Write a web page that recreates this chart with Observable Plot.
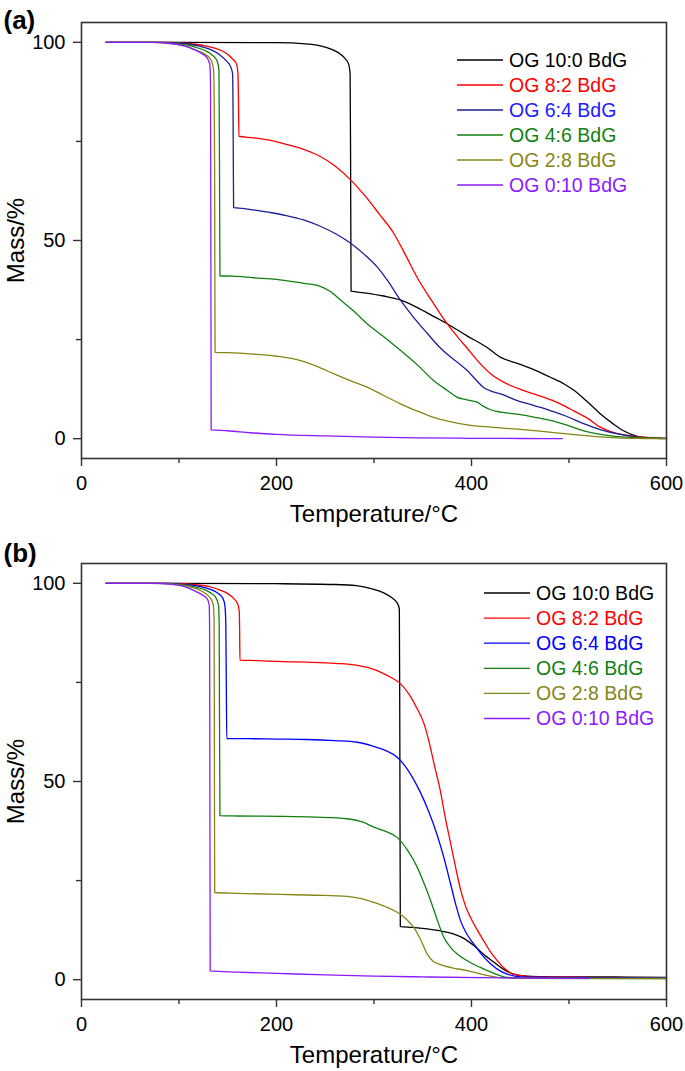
<!DOCTYPE html>
<html>
<head>
<meta charset="utf-8">
<script src="https://cdn.jsdelivr.net/npm/d3@7"></script>
<script src="https://cdn.jsdelivr.net/npm/@observablehq/plot@0.6"></script>
<style>
  html, body { margin: 0; padding: 0; background: #fff; }
  svg { display: block; }
</style>
</head>
<body>
<div id="chart"></div>
<script>
// ---------- Data (Temperature °C, Mass %) ----------
const seriesNames = ["OG 10:0 BdG", "OG 8:2 BdG", "OG 6:4 BdG", "OG 4:6 BdG", "OG 2:8 BdG", "OG 0:10 BdG"];
const xTicks = [0, 200, 400, 600];
const xMinor = [100, 300, 500];
const yTicks = [0, 50, 100];
const yMinor = [25, 75];

// Panel (a)
const a_10_0 = [[25,100],[100,100],[200,99.9],[230,99.6],[250,98.8],[262,97.6],[270,96],[274,94.5],[275.5,92],[276,70],[276.5,37.2],[290,36.8],[310,36],[327,35],[345,33],[360,31],[375,29],[395,26],[416,23],[430,20.5],[447,19],[465,17.3],[481,15.5],[495,13.8],[505,12.2],[518,9.5],[532,6.3],[545,3.8],[556,2],[566,0.9],[577,0.3],[590,0.1],[600,0]];
const a_8_2 = [[25,100],[90,100],[110,99.7],[125,99.2],[138,98.4],[148,97.3],[155,95.8],[159,94.5],[160.5,92],[161,85],[161.5,76.3],[176.6,75.9],[195,75.2],[211,74.2],[230,72.8],[245,71.2],[260,68.8],[276,65.3],[290,61.5],[305,56.8],[320,51.9],[332,46.5],[344,40.8],[360,34.5],[375,29],[388,25],[395,23],[405,20],[419.5,16.4],[435,14],[453,12.2],[470,10.8],[491,8.8],[505,7],[520,5],[532,2.9],[545,1.6],[560,0.8],[580,0.3],[600,0.1]];
const a_6_4 = [[25,100],[85,100],[105,99.7],[120,99.1],[132,98.2],[142,96.8],[149,95.2],[153,93.8],[155,92],[155.5,80],[156,58.3],[165,58.1],[176.6,57.7],[195,57],[210,56.3],[227.7,55.2],[245,53.6],[262,51.5],[276,49.3],[290,46.5],[303,43.4],[315,39.5],[327,35],[340,30.8],[354.5,26.6],[366,23.4],[378.5,20.6],[388,18.8],[395.6,17.2],[404,15],[412,13],[420,12],[429.7,11.3],[447,9.6],[465,8.3],[481,7.1],[498,5.6],[515,3.8],[532,2.3],[550,1.2],[565,0.6],[580,0.2],[600,0.1]];
const a_4_6 = [[25,100],[80,100],[100,99.6],[115,98.9],[126,98],[134,96.8],[139,95.3],[141,93],[141.5,70],[142,41.1],[155,41],[176.6,40.6],[200,40.2],[228,39.2],[242,38.7],[255,37.2],[265.6,35],[280,32],[293,29],[310,25.7],[327,22.3],[345,18.5],[361,14.7],[375,12.2],[385,10.5],[395,9.8],[405.8,9.2],[412,8.2],[419.5,7.3],[430,6.7],[447,6.2],[465,5.4],[481,4.6],[498,3.4],[515,2],[532,1.1],[550,0.5],[575,0.2],[600,0.1]];
const a_2_8 = [[25,100],[75,100],[95,99.6],[110,98.8],[120,97.8],[128,96.8],[133,95.5],[135.5,93],[136.5,70],[137,21.8],[150,21.7],[173,21.4],[200,20.8],[224.6,19.7],[242,18.2],[258.5,16.4],[275,14.7],[293,13],[310,10.9],[327,8.8],[344,7],[361,5.4],[378,4.3],[395.6,3.5],[420,2.9],[447,2.4],[470,1.9],[498,1.2],[525,0.6],[550,0.2],[575,0.05],[600,0]];
const a_0_10 = [[25,100],[70,100],[91,99.7],[105,99.1],[115,98.2],[123,97.2],[129,96],[131.5,94.5],[132.3,90],[132.6,60],[133,2.2],[150,2],[173,1.5],[200,1.1],[250,0.7],[300,0.4],[344,0.2],[400,0.1],[450,0.05],[493,0]];

// Panel (b)
const b_10_0 = [[25,100],[100,100],[200,99.9],[260,99.7],[282,99.4],[298,98.6],[310,97.6],[318,96.4],[324,95],[326,93.5],[326.5,60],[327,13.4],[340,13.2],[354.5,12.8],[370,12.2],[382,11.5],[393,10.3],[402.4,8.6],[412,6.5],[423,4.4],[433,2.6],[443.4,1.4],[452,1],[460.5,0.8],[480,0.7],[520,0.7],[560,0.65],[600,0.6]];
const b_8_2 = [[25,100],[95,100],[115,99.7],[130,99.2],[142,98.3],[150,97.4],[156,96.2],[160,94.9],[161.8,93],[162.2,88],[162.5,80.6],[180,80.5],[200,80.3],[231.5,80.1],[260,79.8],[282.8,79.3],[296,78.6],[306.7,77.6],[317,76.3],[327,74.7],[336,72],[344,68.5],[351,64.8],[357,59.5],[362,54],[368,47.7],[373,41],[378.5,34.5],[384,28],[388.7,22.8],[394,18.5],[399,15.7],[406,12.5],[412.6,9.8],[419,7.2],[426.4,4.8],[434,2.8],[443,1.4],[455,0.9],[470,0.7],[520,0.6],[600,0.5]];
const b_6_4 = [[25,100],[90,100],[110,99.6],[125,99],[135,98.2],[141,97.3],[145,96.2],[147,94.5],[148,90],[148.5,75],[149,60.8],[170,60.8],[200,60.7],[231.5,60.6],[260,60.3],[282.8,59.9],[298,59],[312,57.8],[323.8,56.1],[333,53.5],[340,50.8],[347.7,47.2],[356,42.5],[364.8,36.5],[372,30.5],[378.5,24.2],[384,18.8],[388.7,14.9],[395,11.6],[402.4,9],[411,6.2],[419.5,4],[428,2.4],[436.6,1.4],[451,0.7],[480,0.6],[540,0.5],[600,0.45]];
const b_4_6 = [[25,100],[85,100],[105,99.6],[118,99],[128,98.2],[134,97.3],[138,96.3],[140.5,94.5],[141.2,90],[141.5,70],[142,41.4],[160,41.3],[204,41.2],[240,41],[272.5,40.6],[288,39.8],[299.8,38.5],[312,37.4],[323.8,35.9],[334,32.8],[344.3,28.4],[351,24.5],[358,20],[365,15],[371.6,10.7],[378,8.3],[385.3,6.5],[397,4.6],[409,3.1],[422,1.7],[436.6,0.6],[460,0.4],[520,0.35],[600,0.3]];
const b_2_8 = [[25,100],[80,100],[100,99.6],[113,99],[122,98.2],[128,97.3],[132,96.3],[135,94.8],[136,91],[136.3,60],[136.6,22],[160,21.8],[204,21.5],[240,21.3],[272.5,21],[288,20.4],[299.8,19.5],[312,18.4],[323.8,17],[333,15.3],[340.8,13.2],[348,10],[354.5,6.5],[360,4.8],[368,3.8],[380,3],[395.6,2.3],[410,1.4],[426.4,0.6],[450,0.35],[520,0.3],[600,0.3]];
const b_0_10 = [[25,100],[70,100],[91,99.8],[105,99.2],[115,98.2],[123,97.2],[129,96.1],[131,94.5],[131.4,88],[131.6,60],[132,2.2],[160,1.9],[200,1.6],[250,1.2],[300,0.9],[350,0.7],[409,0.5],[460,0.4],[520,0.35]];

const colorsA = ["#000000", "#ff0000", "#1e1e96", "#118011", "#868616", "#8a1aff"];
const colorsB = ["#000000", "#ff0000", "#0000ff", "#118011", "#868616", "#8a1aff"];
const legendTextA = ["#000000", "#ff0000", "#2020ff", "#118011", "#868616", "#8a1aff"];

const FONT = "'Liberation Sans', Arial, Helvetica, sans-serif";

function panel({series, colors, textColors, tag, height, marginTop, marginBottom, tagDy, legend}) {
  const lines = series.map((s, i) =>
    Plot.line(s, {x: d => d[0], y: d => d[1], stroke: colors[i], strokeWidth: 1.3, curve: "monotone-x"})
  );
  const svg = Plot.plot({
    width: 685,
    height,
    marginLeft: 81,
    marginRight: 19,
    marginTop,
    marginBottom,
    style: {fontFamily: FONT, fontSize: "20px", color: "#000", background: "#fff", overflow: "visible"},
    x: {domain: [0, 600]},
    y: {domain: [-5, 105]},
    marks: [
      ...lines,
      Plot.frame({stroke: "#333", strokeWidth: 1.6}),
      Plot.axisX({ticks: xTicks, tickSize: 8, tickPadding: 9, fontSize: 20, label: null, stroke: "#333", strokeWidth: 1.4}),
      Plot.axisX({ticks: xMinor, tickSize: 5, tickFormat: () => "", label: null, stroke: "#333", strokeWidth: 1.4}),
      Plot.axisY({ticks: yTicks, tickSize: 8, tickPadding: 8, fontSize: 20, label: null, stroke: "#333", strokeWidth: 1.4}),
      Plot.axisY({ticks: yMinor, tickSize: 5, tickFormat: () => "", label: null, stroke: "#333", strokeWidth: 1.4}),
      Plot.text(["Temperature/°C"], {frameAnchor: "bottom", dy: 56, textAnchor: "middle", lineAnchor: "middle", fontSize: 24, fill: "#000"}),
      Plot.text(["Mass/%"], {frameAnchor: "left", dx: -65, rotate: -90, textAnchor: "middle", lineAnchor: "middle", fontSize: 24, fill: "#000"}),
      Plot.text([tag], {frameAnchor: "top-left", dx: -78, dy: tagDy, textAnchor: "start", lineAnchor: "middle", fontSize: 26, fontWeight: "bold", fill: "#000"})
    ]
  });
  // legend inside the frame
  const g = d3.select(svg).append("g")
    .attr("font-family", FONT).attr("font-size", 19.5).attr("text-anchor", "start");
  seriesNames.forEach((name, i) => {
    const y = legend.y0 + legend.dy * i;
    g.append("line").attr("x1", legend.x1).attr("x2", legend.x2).attr("y1", y).attr("y2", y)
      .attr("stroke", colors[i]).attr("stroke-width", 1.3);
    g.append("text").attr("x", legend.tx).attr("y", y).attr("dy", "0.35em")
      .attr("text-anchor", "start").attr("fill", textColors[i]).text(name);
  });
  return svg;
}

const root = document.getElementById("chart");
root.appendChild(panel({
  series: [a_10_0, a_8_2, a_6_4, a_4_6, a_2_8, a_0_10],
  colors: colorsA, textColors: legendTextA, tag: "(a)",
  height: 536, marginTop: 22, marginBottom: 78, tagDy: -2,
  legend: {x1: 457, x2: 503, tx: 509, y0: 60, dy: 25}
}));
root.appendChild(panel({
  series: [b_10_0, b_8_2, b_6_4, b_4_6, b_2_8, b_0_10],
  colors: colorsB, textColors: colorsB, tag: "(b)",
  height: 535, marginTop: 27, marginBottom: 72, tagDy: -10,
  legend: {x1: 484, x2: 530, tx: 536, y0: 57, dy: 25.1}
}));
</script>
</body>
</html>
